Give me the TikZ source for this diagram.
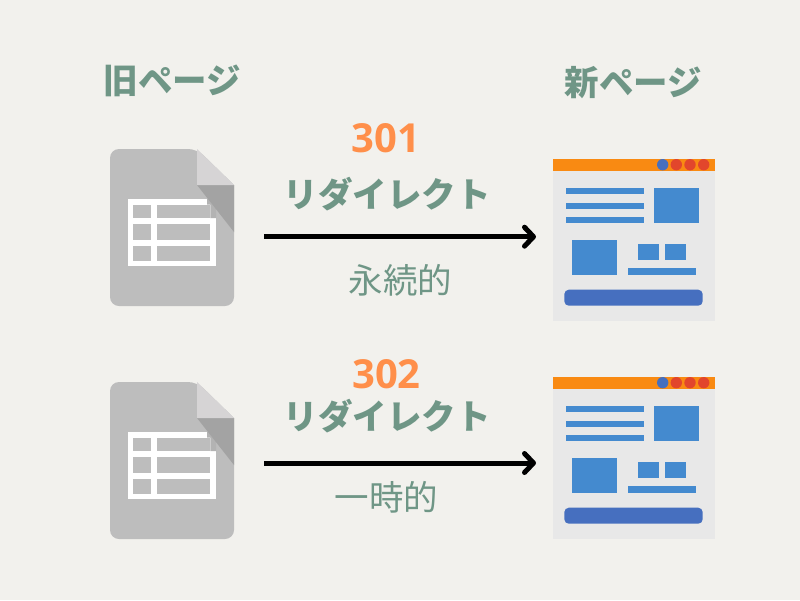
\documentclass[tikz,border=0pt]{standalone}
\usepackage{fontspec}
\newfontfamily\jpfont{Noto Sans CJK JP}
\newfontfamily\numfont{Open Sans}
\usetikzlibrary{arrows.meta}
\definecolor{pagebg}{HTML}{F2F1ED}
\definecolor{labelgreen}{HTML}{6F9686}
\definecolor{codeorange}{HTML}{FF8F4A}
\definecolor{filegray}{HTML}{BDBDBD}
\definecolor{foldlight}{HTML}{D6D4D5}
\definecolor{foldshadow}{HTML}{A3A3A3}
\definecolor{tablecut}{HTML}{B3B3B3}
\definecolor{webgray}{HTML}{E8E8E8}
\definecolor{webbar}{HTML}{F98A12}
\definecolor{webblue}{HTML}{448ACF}
\definecolor{webbutton}{HTML}{466FBF}
\definecolor{webred}{HTML}{E2462C}

\begin{document}
\begin{tikzpicture}[
  x=1pt, y=-1pt,
  heading/.style={font=\jpfont\bfseries\fontsize{34.5}{38}\selectfont, text=labelgreen, inner sep=0pt},
  code/.style={font=\numfont\bfseries\fontsize{40}{44}\selectfont, text=codeorange, inner sep=0pt},
  kind/.style={font=\jpfont\fontsize{34.5}{38}\selectfont, text=labelgreen, inner sep=0pt},
  redirect/.style={line width=5pt, -{Straight Barb[length=9pt,width=19pt,line cap=round,line join=round]}},
  oldfile/.pic={
    \fill[filegray, rounded corners=9pt] (110,306) -- (110,149) -- (197,149) [sharp corners] -- (234,185) [rounded corners=9pt] -- (234,306) -- cycle;
    % table
    \fill[white] (128,199) rectangle (216,266);
    \foreach \ya/\yb in {204.7/218.3, 224/240, 245.7/261} {
      \fill[filegray] (133,\ya) rectangle (151.3,\yb);
      \fill[filegray] (156.7,\ya) rectangle (210.3,\yb);
    }
    \fill[tablecut] (207,199) -- (216,199) -- (216,218) -- (210.3,218) -- (210.3,204.7) -- (207,204.7) -- cycle;
    % fold
    \fill[foldshadow] (197,185) -- (234,185) -- (234,232) -- cycle;
    \fill[foldlight] (197,149) -- (234,185) -- (197,185) -- cycle;
  },
  newpage/.pic={
    \fill[webgray] (553,159) rectangle (715,321);
    \fill[webbar] (553,159) rectangle (715,171);
    \fill[webbutton] (662.7,164.7) circle (5.7);
    \foreach \xc in {676.3,690,703.7}
      \fill[webred] (\xc,164.7) circle (5.7);
    \foreach \ya/\yb in {188/194.3, 202.7/208.7, 217/223}
      \fill[webblue] (566.3,\ya) rectangle (644,\yb);
    \fill[webblue] (653.7,188) rectangle (699,223);
    \fill[webblue] (572,240) rectangle (617.3,274.7);
    \fill[webblue] (637.7,243.7) rectangle (658.7,259.7);
    \fill[webblue] (665,243.7) rectangle (686,259.7);
    \fill[webblue] (628,268.3) rectangle (695.7,274.7);
    \fill[webbutton, rounded corners=4.5pt] (564.3,289.7) rectangle (702.7,305.7);
  },
]

% Background
\fill[pagebg] (0,0) rectangle (800,600);

% Headings
\node[heading] (oldhead) at (172.5,81) {旧ページ};
\node[heading] (newhead) at (633.5,83) {新ページ};

% ========== 301 (top) ==========
\pic (oldtop) at (0,0) {oldfile};
\pic (newtop) at (0,0) {newpage};
\node[code] (code301) at (386,138) {301};
\node[heading] (redir301) at (387,194) {リダイレクト};
\node[kind] (kind301) at (400.5,280) {永続的};
\coordinate (start301) at (264,236.7);
\coordinate (end301) at (536,236.7);
\draw[redirect] (start301) -- (end301);

% ========== 302 (bottom) ==========
\pic (oldbot) at (0,233) {oldfile};
\pic (newbot) at (0,218) {newpage};
\node[code] (code302) at (386.5,374) {302};
\node[heading] (redir302) at (387,416) {リダイレクト};
\node[kind] (kind302) at (386.5,497) {一時的};
\coordinate (start302) at (264,463);
\coordinate (end302) at (536,463);
\draw[redirect] (start302) -- (end302);

\end{tikzpicture}
\end{document}
